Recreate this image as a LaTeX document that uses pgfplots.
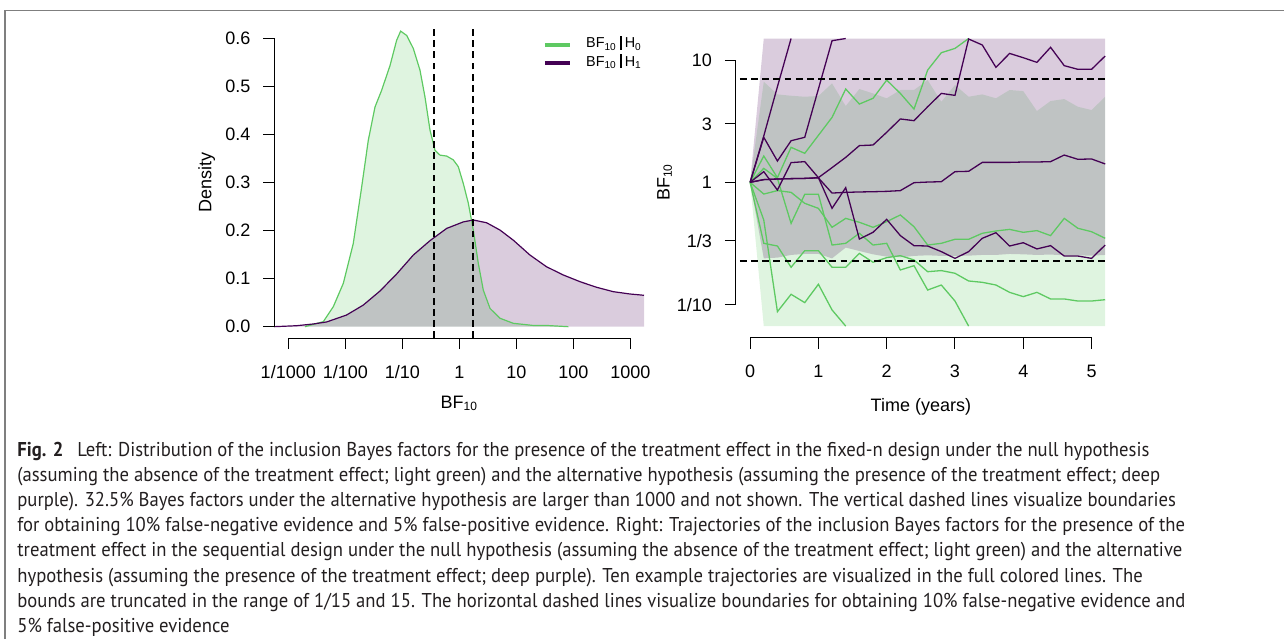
\documentclass[border=0pt]{standalone}
\usepackage{pgfplots}
\pgfplotsset{compat=1.18}
\usepackage{graphicx}
\usepackage{fontspec}
\setmainfont{Liberation Sans}
\newfontfamily\capfont{PT Sans}
\definecolor{vgreen}{HTML}{5EC962}
\definecolor{vpurple}{HTML}{440154}
\definecolor{captxt}{HTML}{231F20}
\definecolor{boxgray}{HTML}{7F7F7F}
\pgfplotsset{rstyle/.style={anchor=south west, scale only axis, enlargelimits=false,
  axis x line*=bottom, axis y line*=left, axis line style={draw=none},
  tick align=outside, major tick length=5.5pt, tick style={black, line width=0.5pt},
  clip=false,
  tick label style={font=\fontsize{9}{10}\selectfont},
  label style={font=\fontsize{9}{10}\selectfont},
  yticklabel style={anchor=east, inner sep=0pt, xshift=-6.3pt},
  xticklabel style={anchor=north, inner sep=0pt, text height=6.44pt, yshift=-7.9pt}}}
\newcommand{\capfmt}{\capfont\fontsize{10}{12}\selectfont}
\newcommand{\lineone}{\textbf{Fig. 2}\hspace{0.75em}Left: Distribution of the inclusion Bayes factors for the presence of the treatment effect in the fixed-n design under the null hypothesis}
\newlength{\capw}
\newcommand{\capline}[2]{\node[anchor=base west, inner sep=0pt, text=captxt] at (17,#1) {\scalebox{\capf}[1]{\capfmt #2}};}
\begin{document}
\settowidth{\capw}{\capfmt\lineone}%
\pgfmathsetmacro{\capf}{566/\capw}%
\begin{tikzpicture}[x=0.5pt,y=0.5pt]
\useasboundingbox (0,0) rectangle (1284,639);
\draw[boxgray, line width=0.75pt] (5,0) -- (5,628.5) -- (1284,628.5);
% ---------------- left panel ----------------
\begin{axis}[rstyle, at={(137.15pt,150.4pt)}, width=184.85pt, height=155.7pt,
  xmin=-3.245, xmax=3.24, ymin=-0.024, ymax=0.624,
  xtick={-3,-2,-1,0,1,2,3}, xticklabels={1/1000,1/100,1/10,1,10,100,1000},
  ytick={0,0.1,0.2,0.3,0.4,0.5,0.6}, yticklabels={0.0,0.1,0.2,0.3,0.4,0.5,0.6},
  xlabel={BF\textsubscript{10}}, ylabel={Density},
  xlabel style={at={(axis description cs:0.5004,-0.209)}, anchor=center},
  ylabel style={at={(axis description cs:-0.1829,0.5)}, anchor=center},
  legend style={draw=none, fill=none, at={(axis description cs:0.725,0.968)}, anchor=north west,
    font=\fontsize{7.2}{8}\selectfont, inner sep=0pt, row sep=1.8pt, column sep=7pt,
    nodes={inner sep=0pt, text height=5.4pt, text depth=2pt}},
  legend cell align=left,
  legend image code/.code={\draw[#1] (0pt,0pt) -- (12.7pt,0pt);}]
\addplot[forget plot, fill=vgreen, fill opacity=0.2, draw=none] table {
x y
-2.707 0
-2.386 0.0104
-2.21 0.0416
-2.035 0.090
-1.86 0.173
-1.712 0.291
-1.596 0.388
-1.479 0.457
-1.362 0.492
-1.216 0.543
-1.099 0.596
-1.029 0.615
-0.923 0.606
-0.807 0.579
-0.69 0.534
-0.602 0.478
-0.514 0.409
-0.426 0.367
-0.339 0.357
-0.221 0.355
-0.105 0.347
-0.018 0.333
0.07 0.298
0.158 0.257
0.246 0.201
0.333 0.132
0.421 0.076
0.539 0.038
0.714 0.0175
0.947 0.007
1.298 0.0025
1.53 0.0025
1.912 0
};
\addplot[forget plot, fill=vpurple, fill opacity=0.2, draw=none] table {
x y
-3.245 0
-2.853 0.002
-2.561 0.0056
-2.327 0.0098
-1.976 0.0243
-1.684 0.045
-1.391 0.0742
-1.099 0.1096
-0.807 0.149
-0.514 0.179
-0.221 0.2045
0.07 0.218
0.246 0.222
0.48 0.2162
0.714 0.201
0.947 0.180
1.24 0.149
1.53 0.1247
1.825 0.1075
2.117 0.0936
2.41 0.0819
2.702 0.0728
2.994 0.068
3.24 0.0653
3.24 0
};
\addplot[forget plot, vgreen, line width=0.6pt] table {
x y
-2.707 0
-2.386 0.0104
-2.21 0.0416
-2.035 0.090
-1.86 0.173
-1.712 0.291
-1.596 0.388
-1.479 0.457
-1.362 0.492
-1.216 0.543
-1.099 0.596
-1.029 0.615
-0.923 0.606
-0.807 0.579
-0.69 0.534
-0.602 0.478
-0.514 0.409
-0.426 0.367
-0.339 0.357
-0.221 0.355
-0.105 0.347
-0.018 0.333
0.07 0.298
0.158 0.257
0.246 0.201
0.333 0.132
0.421 0.076
0.539 0.038
0.714 0.0175
0.947 0.007
1.298 0.0025
1.53 0.0025
1.912 0
};
\addplot[forget plot, vpurple, line width=0.6pt] table {
x y
-3.245 0
-2.853 0.002
-2.561 0.0056
-2.327 0.0098
-1.976 0.0243
-1.684 0.045
-1.391 0.0742
-1.099 0.1096
-0.807 0.149
-0.514 0.179
-0.221 0.2045
0.07 0.218
0.246 0.222
0.48 0.2162
0.714 0.201
0.947 0.180
1.24 0.149
1.53 0.1247
1.825 0.1075
2.117 0.0936
2.41 0.0819
2.702 0.0728
2.994 0.068
3.24 0.0653
};
\addplot[forget plot, black, line width=1pt, dash pattern=on 3.4pt off 2.2pt] coordinates {(-0.439,-0.024) (-0.439,0.624)};
\addplot[forget plot, black, line width=1pt, dash pattern=on 3.4pt off 2.2pt] coordinates {(0.240,-0.024) (0.240,0.624)};
\draw[line width=0.5pt] (axis cs:-3,-0.024) -- (axis cs:3,-0.024);
\draw[line width=0.5pt] (axis cs:-3.245,0) -- (axis cs:-3.245,0.6);
\addlegendimage{vgreen, line width=2pt}
\addlegendentry{BF\textsubscript{10}\hspace{1.6pt}\rule[-0.8pt]{1pt}{7pt}\hspace{1.4pt}H\textsubscript{0}}
\addlegendimage{vpurple, line width=1.6pt}
\addlegendentry{BF\textsubscript{10}\hspace{1.6pt}\rule[-0.8pt]{1pt}{7pt}\hspace{1.4pt}H\textsubscript{1}}
\end{axis}
% ---------------- right panel ----------------
\begin{axis}[rstyle, at={(367.95pt,150.7pt)}, width=191.75pt, height=155.3pt,
  xmin=-0.208, xmax=5.408, ymin=-1.2701, ymax=1.2701,
  xtick={0,1,2,3,4,5}, xticklabels={0,1,2,3,4,5},
  ytick={-1,-0.47712,0,0.47712,1}, yticklabels={1/10,1/3,1,3,10},
  xlabel={Time (years)}, ylabel={BF\textsubscript{10}},
  xlabel style={at={(axis description cs:0.4824,-0.2234)}, anchor=center},
  ylabel style={at={(axis description cs:-0.1859,0.5)}, anchor=center}]
% H0 band (green)
\addplot[fill=vgreen, fill opacity=0.2, draw=none] table {
x y
0 0
0.2 0.823
0.4 0.719
0.6 0.708
0.8 0.700
1.0 0.706
1.2 0.809
1.4 0.624
1.6 0.763
1.8 0.727
2.0 0.687
2.2 0.755
2.4 0.755
2.6 0.836
2.8 0.659
3.0 0.796
3.2 0.700
3.4 0.719
3.6 0.687
3.8 0.755
4.0 0.746
4.2 0.583
4.4 0.665
4.6 0.681
4.8 0.618
5.0 0.591
5.2 0.700
5.2 -1.176
0.2 -1.176
};
% H1 band (purple)
\addplot[fill=vpurple, fill opacity=0.2, draw=none] table {
x y
0 0
0.2 1.176
5.2 1.176
5.2 -0.594
5.0 -0.600
4.8 -0.597
4.6 -0.597
4.4 -0.591
4.2 -0.594
4.0 -0.589
3.8 -0.586
3.6 -0.594
3.4 -0.594
3.2 -0.600
3.0 -0.602
2.8 -0.602
2.6 -0.597
2.4 -0.602
2.2 -0.613
2.0 -0.608
1.8 -0.589
1.6 -0.562
1.4 -0.534
1.2 -0.622
1.0 -0.586
0.8 -0.586
0.6 -0.594
0.4 -0.616
0.2 -0.622
};
% green trajectories
\addplot[vgreen, line width=0.65pt] table {
x y
0 0
0.2 0.215
0.4 0.038
0.6 0.286
0.8 0.237
1.0 0.384
1.2 0.531
1.4 0.763
1.6 0.640
1.8 0.687
2.0 0.836
2.2 0.727
2.4 0.599
2.6 0.918
2.8 1.060
3.0 1.095
3.2 1.176
};
\addplot[vgreen, line width=0.65pt] table {
x y
0 0
0.2 -0.096
0.4 -0.068
0.6 -0.082
0.8 -0.172
1.0 -0.213
1.2 -0.368
1.4 -0.295
1.6 -0.327
1.8 -0.368
2.0 -0.322
2.2 -0.267
2.4 -0.363
2.6 -0.513
2.8 -0.499
3.0 -0.466
3.2 -0.466
3.4 -0.417
3.6 -0.398
3.8 -0.385
4.0 -0.409
4.2 -0.395
4.4 -0.436
4.6 -0.295
4.8 -0.376
5.0 -0.404
5.2 -0.458
};
\addplot[vgreen, line width=0.65pt] table {
x y
0 0
0.2 0.114
0.4 0.032
0.6 -0.336
0.8 -0.098
1.0 -0.098
1.2 -0.513
1.4 -0.499
1.6 -0.417
1.8 -0.513
2.0 -0.499
2.2 -0.717
2.4 -0.682
2.6 -0.881
2.8 -0.840
3.0 -0.971
3.2 -1.176
};
\addplot[vgreen, line width=0.65pt] table {
x y
0 0
0.2 -0.499
0.4 -0.521
0.6 -0.695
0.8 -0.559
1.0 -0.559
1.2 -0.695
1.4 -0.695
1.6 -0.581
1.8 -0.654
2.0 -0.616
2.2 -0.600
2.4 -0.635
2.6 -0.731
2.8 -0.722
3.0 -0.744
3.2 -0.807
3.4 -0.818
3.6 -0.840
3.8 -0.900
4.0 -0.935
4.2 -0.900
4.4 -0.954
4.6 -0.954
4.8 -0.971
5.0 -0.971
5.2 -0.960
};
\addplot[vgreen, line width=0.65pt] table {
x y
0 0
0.2 -0.308
0.4 -1.058
0.6 -0.916
0.8 -0.984
1.0 -0.834
1.2 -1.044
1.4 -1.176
};
% purple trajectories
\addplot[vpurple, line width=0.65pt] table {
x y
0 0
0.2 0.379
0.4 0.782
0.6 1.176
};
\addplot[vpurple, line width=0.65pt] table {
x y
0 0
0.2 0.368
0.4 0.174
0.6 0.340
0.8 0.368
1.0 0.763
1.2 1.158
1.4 1.176
};
\addplot[vpurple, line width=0.65pt] table {
x y
0 0
0.2 0.022
0.4 0.027
0.6 0.030
0.8 0.032
1.0 0.038
1.2 0.120
1.4 0.204
1.6 0.300
1.8 0.305
2.0 0.409
2.2 0.518
2.4 0.504
2.6 0.618
2.8 0.727
3.0 0.711
3.2 1.172
3.4 1.123
3.6 0.940
3.8 1.054
4.0 1.019
4.2 0.981
4.4 1.104
4.6 0.954
4.8 0.924
5.0 0.924
5.2 1.033
};
\addplot[vpurple, line width=0.65pt] table {
x y
0 0
0.2 0.022
0.4 0.027
0.6 0.030
0.8 0.032
1.0 0.036
1.2 -0.088
1.4 -0.082
1.6 -0.079
1.8 -0.077
2.0 -0.074
2.2 -0.068
2.4 -0.003
2.6 0.002
2.8 0.005
3.0 0.087
3.2 0.090
3.4 0.163
3.6 0.163
3.8 0.163
4.0 0.166
4.2 0.166
4.4 0.169
4.6 0.223
4.8 0.188
5.0 0.191
5.2 0.150
};
\addplot[vpurple, line width=0.65pt] table {
x y
0 0
0.2 0.087
0.4 -0.063
0.6 0.161
0.8 0.169
1.0 0.038
1.2 -0.213
1.4 -0.044
1.6 -0.464
1.8 -0.409
2.0 -0.303
2.2 -0.436
2.4 -0.518
2.6 -0.521
2.8 -0.567
3.0 -0.622
3.2 -0.567
3.4 -0.458
3.6 -0.412
3.8 -0.521
4.0 -0.494
4.2 -0.545
4.4 -0.518
4.6 -0.603
4.8 -0.603
5.0 -0.622
5.2 -0.513
};
\addplot[black, line width=1pt, dash pattern=on 3.4pt off 2.2pt] coordinates {(-0.15,0.842) (5.2,0.842)};
\addplot[black, line width=1pt, dash pattern=on 3.4pt off 2.2pt] coordinates {(-0.15,-0.643) (5.2,-0.643)};
\draw[line width=0.5pt] (axis cs:0,-1.2701) -- (axis cs:5,-1.2701);
\draw[line width=0.5pt] (axis cs:-0.208,-1) -- (axis cs:-0.208,1);
\end{axis}
% ---------------- caption ----------------
\capline{182.5}{\lineone}
\capline{157.4}{(assuming the absence of the treatment effect; light green) and the alternative hypothesis (assuming the presence of the treatment effect; deep}
\capline{132.3}{purple). 32.5\% Bayes factors under the alternative hypothesis are larger than 1000 and not shown. The vertical dashed lines visualize boundaries}
\capline{107.2}{for obtaining 10\% false-negative evidence and 5\% false-positive evidence. Right: Trajectories of the inclusion Bayes factors for the presence of the}
\capline{82.1}{treatment effect in the sequential design under the null hypothesis (assuming the absence of the treatment effect; light green) and the alternative}
\capline{57.0}{hypothesis (assuming the presence of the treatment effect; deep purple). Ten example trajectories are visualized in the full colored lines. The}
\capline{31.9}{bounds are truncated in the range of 1/15 and 15. The horizontal dashed lines visualize boundaries for obtaining 10\% false-negative evidence and}
\capline{6.8}{5\% false-positive evidence}
\end{tikzpicture}
\end{document}
